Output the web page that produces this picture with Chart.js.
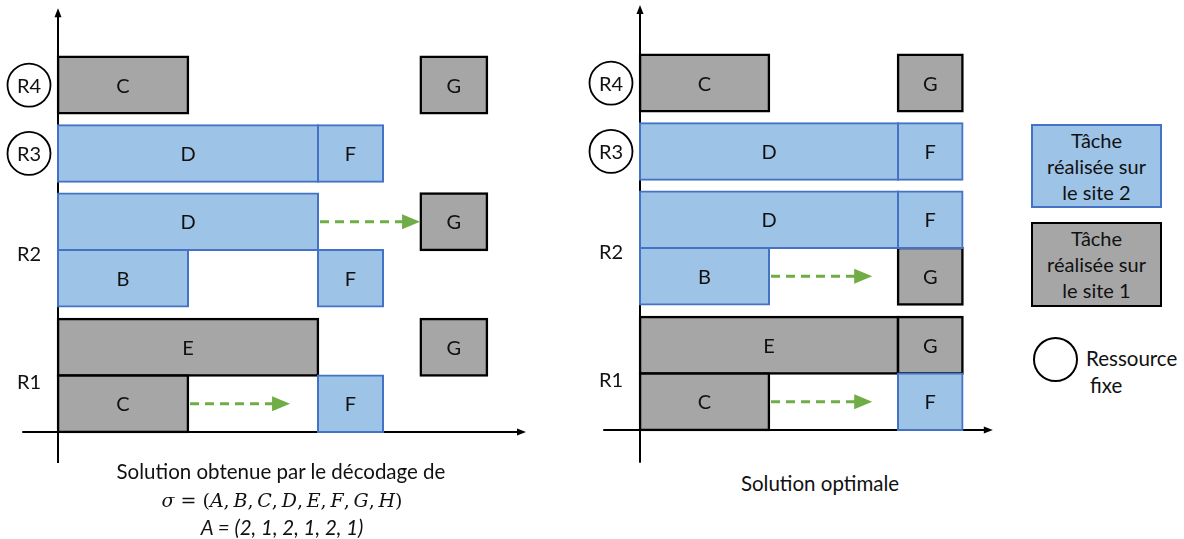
<!DOCTYPE html>
<html lang="fr">
<head>
<meta charset="utf-8">
<script src="https://cdn.jsdelivr.net/npm/chart.js@4.4.1/dist/chart.umd.min.js"></script>
<style>
    body { margin: 0; background: #fff; font-family: Lato, 'Open Sans', sans-serif; color: #111; }
    #page { position: relative; width: 1184px; height: 539px; overflow: hidden; }
    canvas { position: absolute; top: 0; }
    #gantt-a { left: 0; }
    #gantt-b { left: 560px; }
    .legende { position: absolute; left: 1031px; width: 131px; box-sizing: border-box; text-align: center; font-size: 20px; line-height: 26px; padding-top: 1px; white-space: nowrap; }
    .site2 { top: 124px; height: 84px; background: #9DC3E6; border: 2px solid #4472C4; }
    .site1 { top: 222px; height: 85px; background: #A6A6A6; border: 2.5px solid #000; }
    .rond { position: absolute; left: 1033px; top: 337px; width: 45px; height: 45px; box-sizing: border-box; border: 2px solid #000; border-radius: 50%; }
    .txt { position: absolute; font-size: 20.5px; line-height: 24px; white-space: nowrap; }
    .titre { position: absolute; text-align: center; font-size: 20.5px; line-height: 24px; white-space: nowrap; transform: translateX(-50%); }
    .math { font-family: 'DejaVu Serif', serif; font-size: 19px; }
    .math i { font-style: italic; }
</style>
</head>
<body>
<div id="page">
    <canvas id="gantt-a" width="540" height="470"></canvas>
    <canvas id="gantt-b" width="440" height="470"></canvas>

    <div class="legende site2">Tâche<br>réalisée sur<br>le site 2</div>
    <div class="legende site1">Tâche<br>réalisée sur<br>le site 1</div>
    <div class="rond"></div>
    <div class="txt" style="left:1086px; top:346px;">Ressource</div>
    <div class="txt" style="left:1090px; top:373px;">fixe</div>

    <div class="titre" style="left:281px; top:459px;">Solution obtenue par le décodage de</div>
    <div class="titre math" style="left:282px; top:488px;"><i>σ</i> = (<i>A</i>,&thinsp;<i>B</i>,&thinsp;<i>C</i>,&thinsp;<i>D</i>,&thinsp;<i>E</i>,&thinsp;<i>F</i>,&thinsp;<i>G</i>,&thinsp;<i>H</i>)</div>
    <div class="titre" style="left:282px; top:515px; font-style: italic;">A = (2, 1, 2, 1, 2, 1)</div>
    <div class="titre" style="left:820px; top:471px;">Solution optimale</div>
</div>
<script>
// lignes du diagramme (position verticale de chaque sous-ligne)
const lignes = [6.14, 4.93, 3.72, 2.72, 1.5, 0.5];
const ressources = ['R4', 'R3', 'R2', 'R1'];
const ressourcesPos = [6.14, 4.93, 3.15, 0.9];
const ressourcesFixes = [true, true, false, false];

// solution obtenue par le décodage
const tachesA = ['C', 'G', 'D', 'F', 'D', 'G', 'B', 'F', 'E', 'G', 'C', 'F'];
const ligneA = [0, 0, 1, 1, 2, 2, 3, 3, 4, 4, 5, 5];
const debutA = [0, 5.58, 0, 4, 0, 5.58, 0, 4, 0, 5.58, 0, 4];
const finA = [2, 6.6, 4, 5, 4, 6.6, 2, 5, 4, 6.6, 2, 5];
const siteA = [1, 1, 2, 2, 2, 1, 2, 2, 1, 1, 1, 2];
// flèches : ligne, début, fin
const flechesA = [[2, 4, 5.57], [5, 2, 3.57]];

// solution optimale
const tachesB = ['C', 'G', 'D', 'F', 'D', 'F', 'B', 'G', 'E', 'G', 'C', 'F'];
const ligneB = [0, 0, 1, 1, 2, 2, 3, 3, 4, 4, 5, 5];
const debutB = [0, 4, 0, 4, 0, 4, 0, 4, 0, 4, 0, 4];
const finB = [2, 5, 4, 5, 4, 5, 2, 5, 4, 5, 2, 5];
const siteB = [1, 1, 2, 2, 2, 2, 2, 1, 1, 1, 1, 2];
const flechesB = [[3, 2, 3.6], [5, 2, 3.6]];

const POLICE = 'Lato, "Open Sans", sans-serif';
const VERT = '#70AD47';

const pluginGantt = {
    id: 'gantt',
    beforeDatasetsDraw(chart, args, opts) {
        const { ctx, scales: { x, y } } = chart;
        const x0 = x.getPixelForValue(0), y0 = y.getPixelForValue(0);
        const xFin = x.getPixelForValue(opts.axeX[1]), yHaut = y.getPixelForValue(opts.axeY[1]);
        ctx.save();
        ctx.strokeStyle = '#000';
        ctx.fillStyle = '#000';
        ctx.lineWidth = 2;
        // axe des x
        ctx.beginPath();
        ctx.moveTo(x.getPixelForValue(opts.axeX[0]), y0);
        ctx.lineTo(xFin - 6, y0);
        ctx.stroke();
        ctx.beginPath();
        ctx.moveTo(xFin, y0); ctx.lineTo(xFin - 9, y0 - 3.5); ctx.lineTo(xFin - 9, y0 + 3.5); ctx.closePath();
        ctx.fill();
        // axe des y
        ctx.beginPath();
        ctx.moveTo(x0, y.getPixelForValue(opts.axeY[0]));
        ctx.lineTo(x0, yHaut + 6);
        ctx.stroke();
        ctx.beginPath();
        ctx.moveTo(x0, yHaut); ctx.lineTo(x0 - 3.5, yHaut + 9); ctx.lineTo(x0 + 3.5, yHaut + 9); ctx.closePath();
        ctx.fill();

        // ressources
        ctx.font = '20px ' + POLICE;
        ctx.textAlign = 'center';
        ctx.textBaseline = 'middle';
        ctx.lineWidth = 1.8;
        ressources.forEach((r, i) => {
            const py = y.getPixelForValue(ressourcesPos[i]);
            const px = x0 - 29;
            if (ressourcesFixes[i]) {
                ctx.beginPath();
                ctx.arc(px, py, 21.5, 0, Math.PI * 2);
                ctx.stroke();
            }
            ctx.fillStyle = '#111';
            ctx.fillText(r, px, py + 1);
        });
        ctx.restore();
    },
    afterDatasetsDraw(chart, args, opts) {
        const { ctx, scales: { x, y } } = chart;
        ctx.save();
        // noms des tâches
        ctx.font = '20px ' + POLICE;
        ctx.textAlign = 'center';
        ctx.textBaseline = 'middle';
        ctx.fillStyle = '#111';
        chart.data.datasets.forEach((ds, d) => {
            chart.getDatasetMeta(d).data.forEach((el, i) => {
                const c = el.getCenterPoint();
                ctx.fillText(ds.data[i].t, c.x, c.y + 1);
            });
        });
        // flèches vertes en pointillés
        opts.fleches.forEach(([l, a, b]) => {
            const py = y.getPixelForValue(lignes[l]);
            const xa = x.getPixelForValue(a), xb = x.getPixelForValue(b);
            ctx.strokeStyle = VERT;
            ctx.fillStyle = VERT;
            ctx.lineWidth = 3;
            ctx.setLineDash([9, 6]);
            ctx.beginPath();
            ctx.moveTo(xa + 2, py);
            ctx.lineTo(xb - 17, py);
            ctx.stroke();
            ctx.setLineDash([]);
            ctx.beginPath();
            ctx.moveTo(xb, py); ctx.lineTo(xb - 18, py - 7.5); ctx.lineTo(xb - 18, py + 7.5); ctx.closePath();
            ctx.fill();
        });
        ctx.restore();
    }
};

function creerGantt(id, taches, ligne, debut, fin, site, fleches, echelle) {
    const donnees = s => taches
        .map((t, i) => ({ x: [debut[i], fin[i]], y: lignes[ligne[i]], t, s: site[i] }))
        .filter(p => p.s === s);

    return new Chart(document.getElementById(id).getContext('2d'), {
        type: 'bar',
        data: {
            datasets: [
                { label: 'Tâche réalisée sur le site 2', data: donnees(2), backgroundColor: '#9DC3E6', borderColor: '#4472C4', borderWidth: 2, inflateAmount: 1 },
                { label: 'Tâche réalisée sur le site 1', data: donnees(1), backgroundColor: '#A6A6A6', borderColor: '#000', borderWidth: 2.5, inflateAmount: 1.25 },
            ]
        },
        options: {
            indexAxis: 'y',
            responsive: false, animation: false,
            grouped: false,
            barPercentage: 1, categoryPercentage: 1,
            borderSkipped: false,
            layout: { padding: 0 },
            scales: {
                x: { type: 'linear', display: false, offset: false, min: echelle.x[0], max: echelle.x[1] },
                y: {
                    type: 'linear', display: false, offset: false, min: echelle.y[0], max: echelle.y[1],
                    afterBuildTicks: s => { s.ticks = lignes.map(v => ({ value: v })); }
                }
            },
            plugins: {
                legend: { display: false },
                tooltip: { enabled: false },
                gantt: { fleches, axeX: echelle.axeX, axeY: echelle.axeY }
            }
        },
        plugins: [pluginGantt]
    });
}

creerGantt('gantt-a', tachesA, ligneA, debutA, finA, siteA, flechesA,
    { x: [-58 / 65, 482 / 65], y: [-38 / 56.5, 432 / 56.5], axeX: [-0.55, 7.2], axeY: [-0.55, 7.5] });
creerGantt('gantt-b', tachesB, ligneB, debutB, finB, siteB, flechesB,
    { x: [-80 / 64.5, 360 / 64.5], y: [-40 / 56.5, 430 / 56.5], axeX: [-0.57, 5.47], axeY: [-0.58, 7.52] });
</script>
</body>
</html>
